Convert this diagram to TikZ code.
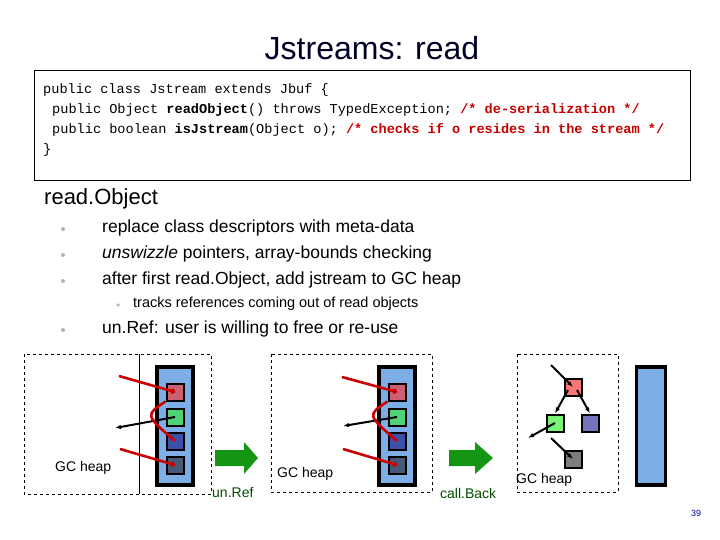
\documentclass[tikz,border=0pt]{standalone}
\usepackage{fontspec}
\setmainfont{Liberation Sans}
\newfontfamily\codefont{Liberation Mono}
\usetikzlibrary{arrows.meta}
\definecolor{colblue}{RGB}{125,175,230}
\definecolor{sqred}{RGB}{205,95,115}
\definecolor{sqgreen}{RGB}{80,210,120}
\definecolor{sqblue}{RGB}{60,80,170}
\definecolor{sqslate}{RGB}{70,90,120}
\definecolor{sqpink}{RGB}{250,120,120}
\definecolor{sqlgreen}{RGB}{120,245,120}
\definecolor{sqpurple}{RGB}{115,115,190}
\definecolor{sqgray}{RGB}{125,125,125}
\definecolor{arrgreen}{RGB}{20,150,20}
\definecolor{codered}{RGB}{200,0,0}
\begin{document}
\begin{tikzpicture}[x=1pt,y=-1pt,
  txt/.style={inner sep=0pt,anchor=west},
  sq/.style={draw=black,line width=2pt,minimum size=17pt,inner sep=0pt},
  col/.style={draw=black,line width=3.5pt,fill=colblue,inner sep=0pt},
  heap/.style={draw=black,dashed,line width=0.8pt},
  redarr/.style={draw=red!80!black,line width=2.6pt,-{Circle[length=5pt]}},
  blkarr/.style={draw=black,line width=2pt,-{Latex[length=6pt]}},
  bul/.style={circle,fill=gray!60,inner sep=0pt,minimum size=4pt},
  garrow/.style={fill=arrgreen,draw=none}]
\useasboundingbox (0,0) rectangle (720,540);
% title
\node (title)[txt,anchor=center,text=black!85!blue,font=\fontsize{32}{36}\selectfont] at (372,48) {Jstreams: read};
% code box
\node (codebox)[draw=black,line width=0.8pt,minimum width=656pt,minimum height=110pt,anchor=north west,inner sep=0pt] at (34,70) {};
\begin{scope}[font=\codefont\fontsize{13.6}{14}\selectfont]
\node (c1)[txt] at (43,90) {public class Jstream extends Jbuf \{};
\node (c2)[txt] at (52,110) {public Object \textbf{readObject}() throws TypedException; \textcolor{codered}{\textbf{/* de-serialization */}}};
\node (c3)[txt] at (52,130) {public boolean \textbf{isJstream}(Object o); \textcolor{codered}{\textbf{/* checks if o resides in the stream */}}};
\node (c4)[txt] at (43,150) {\}};
\end{scope}
% bullets
\node (h)[txt,font=\fontsize{22}{24}\selectfont] at (44,199) {read.Object};
\begin{scope}[font=\fontsize{17.5}{20}\selectfont]
\node (b1d)[bul] at (63,229) {}; \node (b1)[txt] at (102,228) {replace class descriptors with meta-data};
\node (b2d)[bul] at (63,255) {}; \node (b2)[txt] at (102,254) {\textit{unswizzle} pointers, array-bounds checking};
\node (b3d)[bul] at (63,281) {}; \node (b3)[txt] at (102,280) {after first read.Object, add jstream to GC heap};
\node (b5d)[bul] at (63,330) {}; \node (b5)[txt] at (102,329) {un.Ref: user is willing to free or re-use};
\end{scope}
\node (b4d)[bul,minimum size=3.5pt] at (118,305) {};
\node (b4)[txt,font=\fontsize{14.5}{16}\selectfont] at (133,304) {tracks references coming out of read objects};
% panel 1
\draw[heap] (24,354) rectangle (211,494);
\draw[line width=0.8pt] (139,354) -- (139,494);
\node (col1)[col,minimum width=36pt,minimum height=118pt] at (175,426) {};
\node (a1)[sq,fill=sqred] at (175,392) {};
\node (a2)[sq,fill=sqgreen] at (175,417) {};
\node (a3)[sq,fill=sqblue] at (175,441) {};
\node (a4)[sq,fill=sqslate] at (175,465) {};
\coordinate (p1a) at (119,376); \coordinate (p1b) at (120,449); \coordinate (p1c) at (115,428);
\draw[redarr] (p1a) -- (a1.center);
\draw[redarr] (p1b) -- (a4.center);
\draw[blkarr] (a2.center) -- (p1c);
\draw[red!80!black,line width=2.6pt] (a1.south west) .. controls (145,415) .. (a3.center);
\node (gc1)[txt,font=\fontsize{14}{16}\selectfont] at (55,468) {GC heap};
% arrow 1
\fill[garrow] (215,450) -- (244,450) -- (244,442) -- (258,458) -- (244,474) -- (244,466) -- (215,466) -- cycle;
\node (un)[txt,text=black!70!green,font=\fontsize{14}{16}\selectfont] at (212,492) {un.Ref};
% panel 2
\draw[heap] (271,354) rectangle (432,492);
\node (col2)[col,minimum width=36pt,minimum height=118pt] at (397,426) {};
\node (d1)[sq,fill=sqred] at (397,392) {};
\node (d2)[sq,fill=sqgreen] at (397,417) {};
\node (d3)[sq,fill=sqblue] at (397,441) {};
\node (d4)[sq,fill=sqslate] at (397,465) {};
\coordinate (p2a) at (342,377); \coordinate (p2b) at (343,449); \coordinate (p2c) at (343,426);
\draw[redarr] (p2a) -- (d1.center);
\draw[redarr] (p2b) -- (d4.center);
\draw[blkarr] (d2.center) -- (p2c);
\draw[red!80!black,line width=2.6pt] (d1.south west) .. controls (367,415) .. (d3.center);
\node (gc2)[txt,font=\fontsize{14}{16}\selectfont] at (277,474) {GC heap};
% arrow 2
\fill[garrow] (449,450) -- (475,450) -- (475,442) -- (493,458) -- (475,474) -- (475,466) -- (449,466) -- cycle;
\node (cb)[txt,text=black!70!green,font=\fontsize{14}{16}\selectfont] at (440,493) {call.Back};
% panel 3
\draw[heap] (517,354) rectangle (618,492);
\node (e1)[sq,fill=sqpink] at (573,387) {};
\node (e2)[sq,fill=sqlgreen] at (555,423) {};
\node (e3)[sq,fill=sqpurple] at (590,423) {};
\node (e4)[sq,fill=sqgray] at (573,459) {};
\coordinate (q1) at (551,365); \coordinate (q2) at (528,438); \coordinate (q3) at (551,438);
\draw[blkarr] (q1) -- (e1.center);
\draw[blkarr] (568,390) -- (e2.north);
\draw[blkarr] (577,390) -- (e3.north);
\draw[blkarr] (e2.center) -- (q2);
\draw[blkarr] (q3) -- (e4.center);
\node (gc3)[txt,font=\fontsize{14}{16}\selectfont] at (516,480) {GC heap};
\node (col3)[col,minimum width=29pt,minimum height=118pt] at (651,426) {};
% page number
\node (pn)[txt,text=blue!70!black,font=\fontsize{9}{10}\selectfont] at (691,513) {39};
\end{tikzpicture}
\end{document}
